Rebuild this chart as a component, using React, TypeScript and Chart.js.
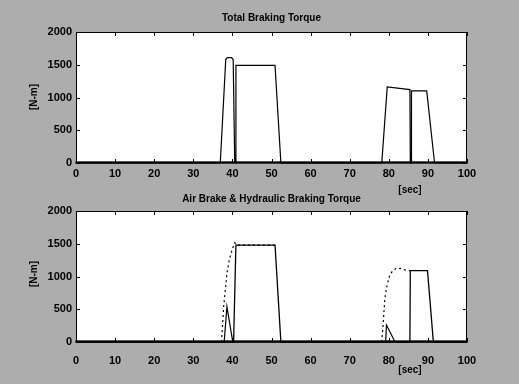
import React, { useEffect, useRef } from "react";
import { Chart, registerables } from "chart.js";

Chart.register(...registerables);

// ---- Data ----
const xTicks = [0, 10, 20, 30, 40, 50, 60, 70, 80, 90, 100];
const yTicks = [0, 500, 1000, 1500, 2000];

// Top: Total braking torque
const totalTime = [0, 36.9, 38.3, 38.7, 39.8, 40.2, 40.6, 40.8, 40.9, 50.9, 52.4, 78.2, 79.6, 85.4, 85.5, 85.7, 85.8, 89.7, 91.7, 100];
const totalTorque = [0, 0, 1580, 1610, 1610, 1580, 0, 0, 1490, 1490, 0, 0, 1160, 1120, 0, 0, 1100, 1100, 0, 0];

// Bottom: air brake (small solid triangles)
const airTime = [0, 37.9, 38.6, 40.1, 79.2, 79.4, 81.6, 100];
const airTorque = [0, 0, 540, 0, 0, 260, 0, 0];

// Bottom: hydraulic (solid blocks)
const hydTime = [0, 40.3, 40.9, 50.9, 52.4, 85.4, 85.5, 89.9, 91.4, 100];
const hydTorque = [0, 0, 1480, 1480, 0, 0, 1090, 1090, 0, 0];

// Bottom: dashed demand curves
const demandTime1 = [37.2, 37.8, 38.2, 38.6, 39.2, 39.9, 40.6, 41.0, 50.9];
const demandTorque1 = [0, 565, 794, 1049, 1252, 1405, 1516, 1480, 1480];
const demandTime2 = [78.2, 78.6, 78.8, 79.0, 79.4, 79.9, 80.3, 81.2, 82.0, 82.9, 84.1, 85.4];
const demandTorque2 = [0, 310, 489, 667, 820, 947, 1034, 1099, 1125, 1125, 1100, 1090];

const topTitle = "Total Braking Torque";
const bottomTitle = "Air Brake & Hydraulic Braking Torque";
const xLabel = "[sec]";
const yLabel = "[N-m]";

const W = 519;
const H = 384;
const BG = "#adadad";
const FONT = "'Liberation Sans', Arial, sans-serif";

function pts(xs: number[], ys: number[]) {
  return xs.map((x, i) => ({ x, y: ys[i] }));
}

type Cfg = {
  title: string;
  plotTop: number;
  titleY: number;
  secY: number;
  yLabY: number;
  tickPad: number;
  datasets: any[];
};

function makeChart(canvas: HTMLCanvasElement, cfg: Cfg) {
  const plotH = 131;
  const xAxisH = H - cfg.plotTop - plotH;
  const deco = {
    id: "deco",
    beforeDraw(chart: any) {
      const ctx = chart.ctx;
      const a = chart.chartArea;
      ctx.save();
      ctx.fillStyle = "#ffffff";
      ctx.fillRect(a.left, a.top, a.right - a.left, a.bottom - a.top);
      ctx.restore();
    },
    afterDraw(chart: any) {
      const ctx = chart.ctx;
      const a = chart.chartArea;
      const xs = chart.scales.x;
      const ys = chart.scales.y;
      ctx.save();
      ctx.strokeStyle = "#000";
      ctx.lineWidth = 1;
      ctx.strokeRect(a.left + 0.5, a.top + 0.5, a.right - a.left - 1, a.bottom - a.top - 1);
      ctx.lineWidth = 1.3;
      ctx.strokeRect(a.left, a.bottom - 1, a.right - a.left, 1);
      // inward ticks
      ctx.beginPath();
      xTicks.forEach((v) => {
        const px = Math.round(xs.getPixelForValue(v)) + 0.5;
        ctx.moveTo(px, a.bottom);
        ctx.lineTo(px, a.bottom - 4);
        ctx.moveTo(px, a.top);
        ctx.lineTo(px, a.top + 4);
      });
      yTicks.forEach((v) => {
        const py = Math.round(ys.getPixelForValue(v)) + 0.5;
        ctx.moveTo(a.left, py);
        ctx.lineTo(a.left + 4, py);
        ctx.moveTo(a.right, py);
        ctx.lineTo(a.right - 4, py);
      });
      ctx.lineWidth = 1;
      ctx.stroke();
      // texts
      ctx.fillStyle = "#000";
      ctx.font = "bold 10px " + FONT;
      ctx.textAlign = "center";
      ctx.textBaseline = "middle";
      ctx.fillText(cfg.title, (a.left + a.right) / 2, cfg.titleY);
      ctx.fillText(xLabel, 410, cfg.secY);
      ctx.translate(34, cfg.yLabY);
      ctx.rotate(-Math.PI / 2);
      ctx.fillText(yLabel, 0, 0);
      ctx.restore();
    },
  };

  return new Chart(canvas, {
    type: "line",
    data: { datasets: cfg.datasets },
    plugins: [deco],
    options: {
      animation: false,
      responsive: false,
      maintainAspectRatio: false,
      layout: { padding: { left: 0, right: W - 467, top: cfg.plotTop, bottom: 0 } },
      plugins: {
        legend: { display: false },
        title: { display: false },
        tooltip: { enabled: false },
      },
      elements: { point: { radius: 0 }, line: { tension: 0 } },
      scales: {
        x: {
          type: "linear",
          min: 0,
          max: 100,
          afterFit: (s: any) => {
            s.height = xAxisH;
          },
          afterBuildTicks: (s: any) => {
            s.ticks = xTicks.map((v) => ({ value: v }));
          },
          grid: { display: false, drawTicks: false },
          border: { display: false },
          ticks: {
            color: "#000",
            padding: cfg.tickPad,
            maxRotation: 0,
            autoSkip: false,
            callback: (v: any) => String(v),
            font: { family: FONT, size: 11, weight: "bold" },
          },
        },
        y: {
          type: "linear",
          min: 0,
          max: 2000,
          afterFit: (s: any) => {
            s.width = 76;
          },
          afterBuildTicks: (s: any) => {
            s.ticks = yTicks.map((v) => ({ value: v }));
          },
          grid: { display: false, drawTicks: false },
          border: { display: false },
          ticks: {
            color: "#000",
            padding: 4,
            callback: (v: any) => String(v),
            font: { family: FONT, size: 11, weight: "bold" },
          },
        },
      },
    },
  } as any);
}

function line(data: any[], width: number, dash: number[] = []) {
  return {
    data,
    borderColor: "#000",
    borderWidth: width,
    borderDash: dash,
    pointRadius: 0,
    fill: false,
    clip: 2,
  };
}

export default function App() {
  const topRef = useRef<HTMLCanvasElement>(null);
  const botRef = useRef<HTMLCanvasElement>(null);

  useEffect(() => {
    document.body.style.margin = "0";
    document.body.style.background = BG;
    const c1 = makeChart(topRef.current!, {
      title: topTitle,
      plotTop: 32,
      titleY: 18,
      secY: 190,
      yLabY: 97,
      tickPad: 4,
      datasets: [line(pts(totalTime, totalTorque), 1.2)],
    });
    const c2 = makeChart(botRef.current!, {
      title: bottomTitle,
      plotTop: 211,
      titleY: 199,
      secY: 370,
      yLabY: 274,
      tickPad: 12,
      datasets: [
        line(pts(demandTime1, demandTorque1), 1.2, [2, 3]),
        line(pts(demandTime2, demandTorque2), 1.2, [2, 3]),
        line(pts(airTime, airTorque), 1.2),
        line(pts(hydTime, hydTorque), 1.3),
      ],
    });
    return () => {
      c1.destroy();
      c2.destroy();
    };
  }, []);

  const cs: React.CSSProperties = { position: "absolute", left: 0, top: 0, width: W, height: H };
  return (
    <div style={{ position: "relative", width: W, height: H, background: BG }}>
      <canvas ref={topRef} width={W} height={H} style={cs} />
      <canvas ref={botRef} width={W} height={H} style={cs} />
    </div>
  );
}
